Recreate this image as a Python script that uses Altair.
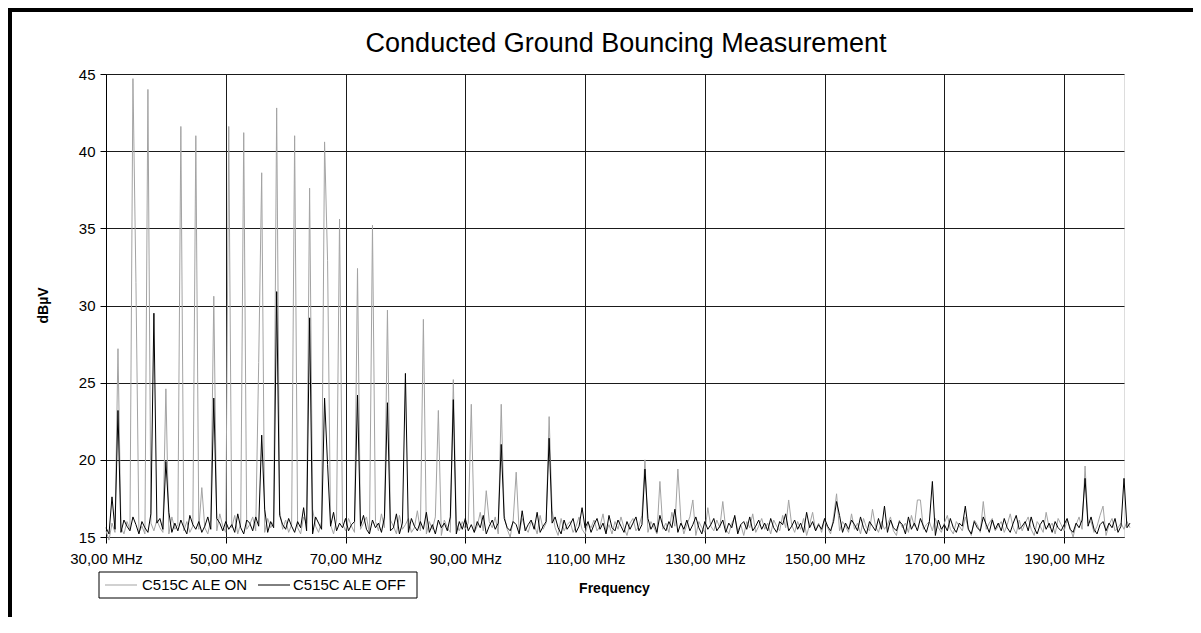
import altair as alt
import pandas as pd

# ---------------- data ----------------
freq_start = 30.0
freq_step = 0.5

chart_title = "Conducted Ground Bouncing Measurement"
series_names = ["C515C ALE ON", "C515C ALE OFF"]
series_colors = ["#a3a3a3", "#000000"]

x_tick_values = [30, 50, 70, 90, 110, 130, 150, 170, 190]
y_tick_values = [15, 20, 25, 30, 35, 40, 45]

# noise floor, one value every 0.5 MHz from 30.0 MHz
on_noise = [
    15.4, 14.8, 15.9, 15.3, 16.2, 15.6, 15.2, 16.0, 15.5, 15.8, 16.4, 15.3, 15.7, 15.2, 16.6, 15.9, 15.4, 16.1, 15.6, 15.3,
    15.9, 15.2, 16.3, 15.5, 15.8, 16.7, 15.4, 16.0, 15.3, 15.7, 16.2, 15.5, 16.8, 15.6, 15.2, 16.1, 15.8, 15.4, 16.5, 15.7,
    15.3, 16.0, 15.6, 16.4, 15.2, 15.9, 16.6, 15.5, 15.8, 16.3, 15.4, 16.9, 15.7, 15.3, 16.2, 15.6, 16.0, 15.4, 16.7, 15.5,
    16.1, 15.3, 15.8, 16.5, 15.6, 15.2, 16.3, 15.9, 15.4, 16.8, 15.7, 15.3, 16.0, 15.5, 16.4, 15.8, 15.2, 16.1, 15.6, 15.9,
    15.4, 16.2, 15.7, 15.3, 16.6, 15.5, 15.9, 16.3, 15.2, 15.8, 16.0, 15.4, 16.5, 15.6, 15.3, 16.1, 15.7, 15.2, 16.4, 15.5,
    15.8, 16.2, 15.3, 15.6, 16.7, 15.4, 15.9, 15.2, 16.0, 15.5, 16.3, 15.7, 15.1, 16.1, 15.6, 15.3, 16.5, 15.8, 15.4, 16.0,
    15.5, 15.9, 16.2, 15.3, 15.7, 16.6, 15.4, 15.1, 16.0, 15.6, 16.3, 15.2, 15.8, 16.4, 15.5, 15.0, 16.1, 15.7, 15.3, 16.2,
    15.6, 15.3, 16.0, 15.8, 15.2, 16.4, 15.5, 15.9, 15.3, 16.7, 15.6, 15.1, 16.2, 15.4, 15.8, 16.0, 15.3, 15.7, 16.3, 15.5,
    15.2, 15.9, 15.6, 16.1, 15.4, 15.7, 16.5, 15.3, 15.8, 15.2, 16.0, 15.5, 16.3, 15.6, 15.1, 15.9, 16.2, 15.4, 15.7, 16.4,
    15.8, 15.3, 16.0, 15.6, 15.2, 16.2, 15.5, 15.9, 15.3, 16.6, 15.7, 15.4, 16.1, 15.2, 15.8, 16.3, 15.5, 15.1, 16.0, 15.6,
    15.3, 16.9, 15.7, 15.4, 16.1, 15.6, 17.2, 15.5, 15.2, 15.9, 16.3, 15.4, 15.8, 15.1, 16.0, 15.6, 16.5, 15.3, 15.7, 16.2,
    15.5, 15.9, 15.2, 16.1, 15.7, 15.4, 16.4, 15.6, 17.3, 15.8, 15.3, 16.0, 15.5, 16.2, 15.1, 15.8, 16.6, 15.4, 15.9, 15.3,
    16.1, 15.6, 15.2, 16.3, 15.8, 15.4, 16.0, 15.7, 15.3, 16.5, 15.5, 15.9, 15.2, 16.2, 15.6, 15.4, 16.8, 15.7, 15.3, 16.0,
    15.5, 15.8, 16.3, 15.4, 15.1, 16.1, 15.6, 15.9, 15.3, 16.4, 15.7, 15.2, 17.4, 15.5, 15.8, 16.0, 15.4, 16.2, 15.6, 15.3,
    15.9, 16.4, 15.5, 15.2, 16.0, 15.7, 15.4, 16.3, 15.6, 15.1, 16.1, 15.8, 15.3, 17.3, 15.5, 15.9, 16.2, 15.4, 15.7, 16.0,
    15.3, 15.8, 16.5, 15.6, 15.2, 16.1, 15.4, 15.9, 16.3, 15.5, 15.1, 16.0, 15.7, 15.3, 16.6, 15.6, 15.9, 15.2, 16.2, 15.8,
    15.4, 16.1, 15.6, 15.0, 15.8, 16.3, 15.5, 15.2, 15.9, 16.0, 15.3, 15.7, 16.4, 15.5, 15.1, 15.8, 16.2, 15.4, 15.6, 15.9,
    15.5, 16.0, 15.6,
]

off_noise = [
    15.6, 15.2, 16.4, 15.5, 15.9, 15.3, 16.1, 15.7, 15.4, 16.3, 15.8, 15.2, 16.0, 15.6, 15.3, 16.5, 15.4, 15.9, 16.2, 15.5,
    15.7, 16.6, 15.3, 15.9, 15.4, 16.1, 15.6, 15.2, 16.4, 15.8, 15.5, 16.0, 15.3, 15.7, 16.3, 15.5, 15.2, 16.2, 15.9, 15.4,
    16.0, 15.5, 15.8, 15.3, 16.5, 15.6, 15.2, 16.1, 15.9, 15.4, 16.3, 15.7, 15.5, 16.8, 15.3, 16.0, 15.6, 15.2, 16.4, 15.8,
    15.5, 16.2, 15.7, 15.3, 16.0, 15.6, 16.9, 15.4, 15.8, 15.2, 16.3, 15.9, 15.5, 16.1, 15.3, 15.7, 16.6, 15.4, 15.9, 15.6,
    16.2, 15.4, 15.8, 16.0, 15.3, 15.7, 16.4, 15.5, 15.2, 16.1, 15.6, 15.9, 15.3, 16.3, 15.8, 15.4, 15.6, 16.5, 15.2, 15.9,
    15.6, 15.3, 16.2, 15.7, 15.4, 16.0, 15.5, 16.6, 15.3, 15.8, 15.2, 16.1, 15.6, 15.9, 15.4, 16.3, 15.7, 15.2, 16.0, 15.5,
    16.2, 15.4, 15.8, 15.3, 16.0, 15.6, 16.4, 15.2, 15.7, 16.1, 15.5, 15.9, 15.3, 16.2, 15.6, 15.4, 16.0, 15.8, 15.2, 16.7,
    15.4, 15.8, 16.1, 15.5, 16.6, 15.3, 15.7, 16.0, 15.4, 15.9, 16.3, 15.6, 15.2, 16.1, 15.5, 15.8, 16.2, 15.3, 15.7, 16.9,
    15.6, 16.0, 15.3, 15.8, 16.2, 15.5, 15.9, 15.2, 16.4, 15.6, 15.4, 16.1, 15.7, 15.3, 16.0, 15.5, 15.9, 16.3, 15.4, 15.8,
    15.6, 16.2, 15.5, 15.9, 15.3, 16.4, 15.7, 15.4, 16.0, 15.6, 16.8, 15.3, 15.9, 15.5, 16.1, 15.4, 15.8, 16.3, 15.6, 15.2,
    16.0, 15.5, 15.8, 16.2, 15.4, 15.7, 16.1, 15.3, 15.9, 15.6, 16.4, 15.2, 15.8, 16.0, 15.5, 16.3, 15.4, 15.7, 16.1, 15.5,
    15.9, 15.4, 16.2, 15.6, 15.3, 16.0, 15.8, 16.5, 15.4, 15.7, 16.1, 15.5, 15.9, 15.3, 16.6, 15.6, 16.0, 15.4, 15.8, 15.5,
    16.2, 15.7, 15.4, 16.0, 15.6, 16.4, 15.3, 15.9, 15.5, 16.1, 15.8, 15.4, 16.3, 15.6, 15.2, 16.0, 15.7, 15.4, 16.2, 15.5,
    15.9, 15.3, 16.1, 15.6, 15.4, 16.0, 15.8, 15.2, 16.3, 15.5, 15.9, 15.4, 16.2, 15.7, 15.3, 16.0, 15.6, 15.1, 16.1, 15.5,
    15.8, 15.4, 16.2, 15.6, 15.3, 15.9, 15.7, 16.9, 15.5, 15.2, 16.0, 15.6, 15.4, 16.3, 15.8, 15.3, 16.1, 15.5, 15.9, 15.4,
    16.2, 15.6, 15.3, 15.9, 16.4, 15.5, 15.7, 16.0, 15.4, 16.3, 15.6, 15.2, 15.8, 16.1, 15.5, 15.9, 15.3, 16.0, 15.6, 15.4,
    15.8, 16.2, 15.5, 15.3, 15.9, 15.6, 16.1, 15.4, 15.7, 16.3, 15.5, 15.2, 15.8, 16.0, 15.4, 15.9, 15.6, 16.2, 15.3, 15.7,
    16.4, 15.6, 15.9,
]

# emission peaks (MHz, dBuV)
on_peak_freq = [32.0, 34.5, 35.0, 37.0, 40.0, 42.5, 45.0, 46.0, 48.0, 50.5, 53.0, 55.5, 56.0, 58.5,
                61.5, 64.0, 66.5, 67.0, 69.0, 72.0, 74.5, 77.0, 83.0, 85.5, 88.0, 91.0, 93.5, 96.0,
                98.5, 104.0, 120.0, 122.5, 125.5, 128.0, 133.0, 144.0, 152.0, 165.5, 176.5, 193.5, 196.5]
on_peak_val = [27.2, 44.7, 31.5, 44.0, 24.6, 41.6, 41.0, 18.2, 30.6, 41.6, 41.2, 26.3, 38.6, 42.8,
               41.0, 37.6, 40.6, 32.9, 35.6, 32.4, 35.2, 29.7, 29.1, 23.2, 25.2, 23.6, 18.0, 23.6,
               19.2, 22.8, 20.0, 18.6, 19.4, 17.4, 17.3, 17.4, 17.8, 17.4, 17.3, 19.6, 17.0]

off_peak_freq = [31.0, 32.0, 38.0, 40.0, 48.0, 56.0, 58.5, 64.0, 66.5, 67.0, 72.0, 77.0, 80.0, 88.0,
                 96.0, 104.0, 120.0, 152.0, 160.0, 168.0, 173.5, 193.5, 200.0]
off_peak_val = [17.6, 23.2, 29.5, 19.9, 24.0, 21.6, 30.9, 29.2, 24.0, 19.7, 24.2, 23.7, 25.6, 23.9,
                21.0, 21.4, 19.4, 17.3, 17.0, 18.6, 17.0, 18.8, 18.8]


def build_series(noise, peak_freq, peak_val, name):
    vals = list(noise)
    for f, v in zip(peak_freq, peak_val):
        i = int(round((f - freq_start) / freq_step))
        vals[i] = v
    freqs = [freq_start + i * freq_step for i in range(len(vals))]
    return pd.DataFrame({"freq": freqs, "value": vals, "series": name})


df_on = build_series(on_noise, on_peak_freq, on_peak_val, series_names[0])
df_off = build_series(off_noise, off_peak_freq, off_peak_val, series_names[1])

FONT = "Liberation Sans"
W, H = 1018, 463
PAD = {"left": 98, "top": 66, "right": 69, "bottom": 80}

color_scale = alt.Scale(domain=series_names, range=series_colors)

x_enc = alt.X(
    "freq:Q",
    scale=alt.Scale(domain=[30, 200], nice=False, zero=False),
    axis=alt.Axis(
        values=x_tick_values,
        labelExpr="replace(format(datum.value, '.2f'), '.', ',') + ' MHz'",
        labelFlush=False,
        labelBound=False,
        labelOverlap=False,
        labelFont=FONT, labelFontSize=15, labelColor="black", labelPadding=8,
        tickSize=6, tickColor="black", domainColor="#333333",
        grid=True, gridColor="#1a1a1a", gridWidth=1,
        title="Frequency", titleFont=FONT, titleFontSize=14, titleFontWeight="bold",
        titleColor="black", titleX=508, titleY=51, titleBaseline="middle", titleAlign="center",
    ),
)
y_enc = alt.Y(
    "value:Q",
    scale=alt.Scale(domain=[15, 45], nice=False, zero=False),
    axis=alt.Axis(
        values=y_tick_values,
        labelFont=FONT, labelFontSize=15, labelColor="black", labelPadding=5,
        tickSize=6, tickColor="black", domainColor="black",
        grid=True, gridColor="#1a1a1a", gridWidth=1,
        title="dBµV", titleFont=FONT, titleFontSize=14, titleFontWeight="bold",
        titleColor="black", titleX=-63, titleY=231, titleAngle=270,
        titleBaseline="middle", titleAlign="center",
    ),
)

line_on = alt.Chart(df_on).mark_line(strokeWidth=1, clip=False).encode(
    x=x_enc, y=y_enc,
    color=alt.Color("series:N", scale=color_scale, legend=None),
)
line_off = alt.Chart(df_off).mark_line(strokeWidth=1, clip=False).encode(
    x=x_enc, y=y_enc,
    color=alt.Color("series:N", scale=color_scale, legend=None),
)

one = pd.DataFrame({"k": [0]})

# outer chart-area frame (only top and left edges are visible in the reference)
left_border = alt.Chart(one).mark_rule(color="black", strokeWidth=4).encode(
    x=alt.value(-96), y=alt.value(-66), y2=alt.value(H + PAD["bottom"])
)
top_border = alt.Chart(one).mark_rule(color="black", strokeWidth=4).encode(
    x=alt.value(-PAD["left"]), x2=alt.value(W + PAD["right"]), y=alt.value(-64)
)

title_mark = alt.Chart(one).mark_text(
    text=chart_title, font=FONT, fontSize=27, color="black",
    align="center", baseline="alphabetic",
).encode(x=alt.value(520), y=alt.value(-22))

# legend box (drawn as marks to match the boxed Excel legend)
legend_box = alt.Chart(one).mark_rect(fill="white", stroke="black", strokeWidth=1).encode(
    x=alt.value(-7), x2=alt.value(311), y=alt.value(498), y2=alt.value(524)
)
leg_line_on = alt.Chart(one).mark_rule(color=series_colors[0], strokeWidth=1).encode(
    x=alt.value(-1), x2=alt.value(31), y=alt.value(511)
)
leg_line_off = alt.Chart(one).mark_rule(color=series_colors[1], strokeWidth=1).encode(
    x=alt.value(152), x2=alt.value(184), y=alt.value(511)
)
leg_text_on = alt.Chart(one).mark_text(
    text=series_names[0], font=FONT, fontSize=15, color="black", align="left", baseline="middle"
).encode(x=alt.value(36), y=alt.value(511))
leg_text_off = alt.Chart(one).mark_text(
    text=series_names[1], font=FONT, fontSize=15, color="black", align="left", baseline="middle"
).encode(x=alt.value(187), y=alt.value(511))

chart = alt.layer(
    line_on, line_off, left_border, top_border, title_mark,
    legend_box, leg_line_on, leg_line_off, leg_text_on, leg_text_off,
).properties(
    width=W, height=H,
    autosize=alt.AutoSizeParams(type="none"),
    padding=PAD,
).configure_view(stroke="#8c8c8c", strokeWidth=1).configure(background="white")

chart.save("out.html", embed_options={"renderer": "svg", "actions": False})
